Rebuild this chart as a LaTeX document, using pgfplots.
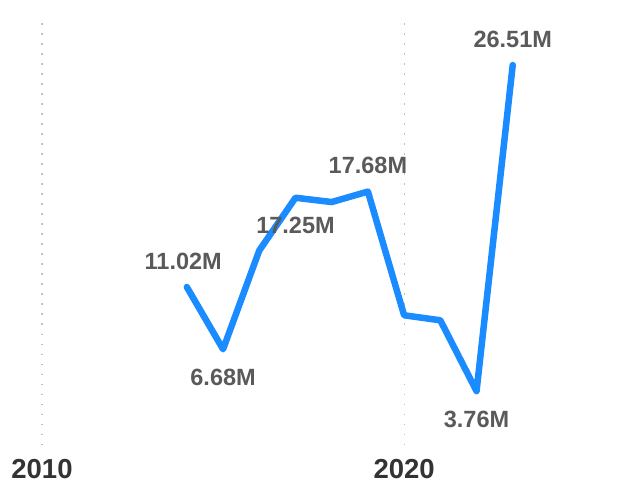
\documentclass[border=0pt]{standalone}
\usepackage{fontspec}
\setmainfont{Liberation Sans}
\usepackage{pgfplots}
\pgfplotsset{compat=1.18}
\definecolor{lineblue}{HTML}{1A8CFF}
\definecolor{lblgray}{HTML}{5A5A5A}
\definecolor{tickgray}{HTML}{333333}
\begin{document}
\begin{tikzpicture}
\begin{axis}[
  scale only axis,
  width=625bp, height=430bp,
  xmin=2008.84, xmax=2026.1,
  ymin=0, ymax=30,
  axis line style={draw=none},
  major tick style={draw=none},
  xtick={2010,2020},
  ytick=\empty,
  xmajorgrids,
  grid style={dash pattern=on 1.5bp off 8.5bp, gray!50, line width=1.2bp},
  /pgf/number format/assume math mode=true,
  xticklabel={\pgfmathprintnumber[1000 sep={}]{\tick}},
  xticklabel style={font=\bfseries\fontsize{27.5bp}{27.5bp}\selectfont, text=tickgray, anchor=center, yshift=-24bp},
  clip=false,
]
\addplot[lineblue, line width=6.5bp, line cap=round, line join=round] coordinates {
(2014,11.02) (2015,6.68) (2016,13.57) (2017,17.25) (2018,16.95) (2019,17.68)
(2020,9.05) (2021,8.70) (2022,3.76) (2023,26.51)
};
\addplot[draw=none, point meta=explicit symbolic,
  nodes near coords,
  nodes near coords style={anchor=center, yshift=26bp, font=\bfseries\fontsize{23.5bp}{23.5bp}\selectfont, text=lblgray}]
  coordinates {(2013.9,11.02) [11.02M] (2019,17.68) [17.68M] (2023,26.51) [26.51M]};
\addplot[draw=none, point meta=explicit symbolic,
  nodes near coords,
  nodes near coords style={anchor=center, yshift=-28bp, font=\bfseries\fontsize{23.5bp}{23.5bp}\selectfont, text=lblgray}]
  coordinates {(2015,6.68) [6.68M] (2017,17.25) [17.25M] (2022,3.76) [3.76M]};
\end{axis}
\path ([yshift=15bp]current axis.north west) ([yshift=-39bp]current axis.south east);
\end{tikzpicture}
\end{document}
